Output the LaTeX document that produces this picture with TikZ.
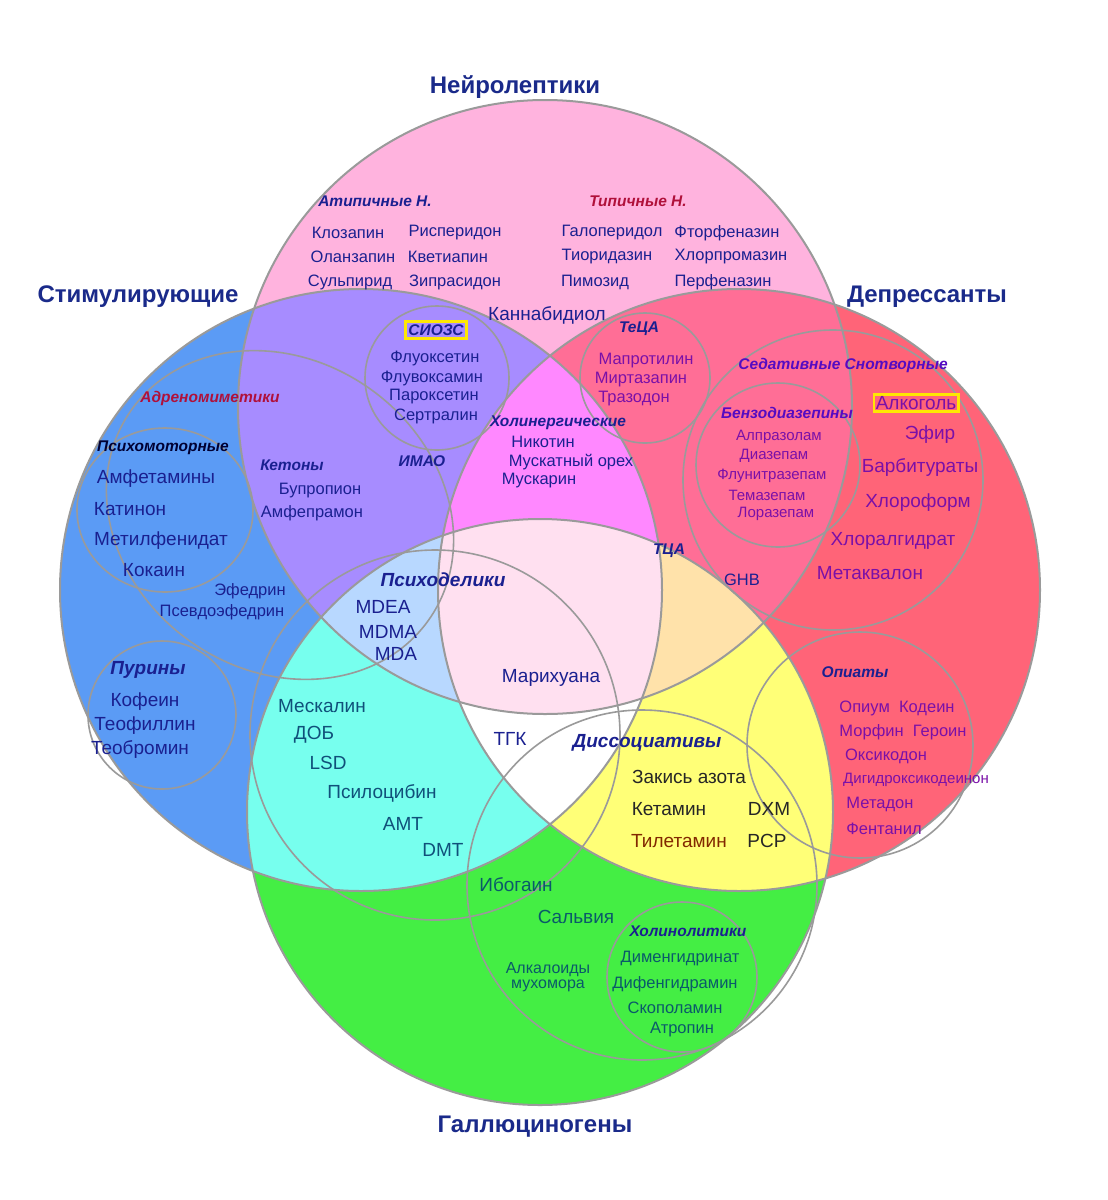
\documentclass[tikz,border=0pt]{standalone}
\usepackage{fontspec}
\setmainfont{Liberation Sans}
\definecolor{cP}{HTML}{FFB3DE}
\definecolor{cB}{HTML}{5B9BF5}
\definecolor{cR}{HTML}{FF6478}
\definecolor{cG}{HTML}{44EE44}
\definecolor{cPB}{HTML}{A78CFF}
\definecolor{cPR}{HTML}{FF6E96}
\definecolor{cBG}{HTML}{77FFEE}
\definecolor{cRG}{HTML}{FFFF77}
\definecolor{cPBR}{HTML}{FF88FF}
\definecolor{cPBG}{HTML}{B8D8FF}
\definecolor{cPRG}{HTML}{FFE2AA}
\definecolor{cAll}{HTML}{FFE0F0}
\definecolor{tit}{HTML}{1A2A8A}
\definecolor{dkb}{HTML}{1A2090}
\definecolor{pur}{HTML}{7A10A8}
\definecolor{teal}{HTML}{10507A}
\definecolor{grn}{HTML}{0A5A6A}
\definecolor{dred}{HTML}{B0103A}
\definecolor{ln}{HTML}{9A9A9A}
\begin{document}
\begin{tikzpicture}[x=1pt,y=-1pt,
  title/.style={font=\fontsize{24}{24}\selectfont\bfseries,text=tit},
  sub/.style={font=\fontsize{15.5}{15.5}\selectfont\bfseries\itshape,text=dkb},
  bigsub/.style={font=\fontsize{19}{19}\selectfont\bfseries\itshape,text=dkb},
  it/.style={font=\fontsize{16.5}{16.5}\selectfont,text=dkb},
  sm/.style={font=\fontsize{15}{15}\selectfont,text=dkb},
  big/.style={font=\fontsize{19}{19}\selectfont,text=dkb},
  ring/.style={draw=ln,line width=2pt},
  thin/.style={draw=ln,line width=1.6pt},
  ybox/.style={draw=yellow!90!orange,line width=2.5pt,inner sep=3pt}]
\useasboundingbox (0,0) rectangle (1108,1200);
\fill[white] (0,0) rectangle (1108,1200);
\def\P{(545,407) circle (307)}
\def\B{(361,590) circle (301)}
\def\R{(739,590) circle (301)}
\def\G{(540,812) circle (293)}
% singles
\fill[cP] \P; \fill[cB] \B; \fill[cR] \R; \fill[cG] \G;
% pairs
\begin{scope}\clip \P; \fill[cPB] \B; \fill[cPR] \R; \end{scope}
\begin{scope}\clip \B; \fill[cBG] \G; \end{scope}
\begin{scope}\clip \R; \fill[cRG] \G; \end{scope}
% triples
\begin{scope}\clip \B; \clip \R; \fill[white] \G; \end{scope}
\begin{scope}\clip \P; \clip \B; \fill[cPBR] \R; \fill[cPBG] \G; \end{scope}
\begin{scope}\clip \P; \clip \R; \fill[cPRG] \G; \end{scope}
\begin{scope}\clip \P; \clip \B; \clip \R; \fill[cAll] \G; \end{scope}
% outlines
\draw[ring] \P; \draw[ring] \B; \draw[ring] \R; \draw[ring] \G;
% sub circles
\draw[thin] (437,378) circle (72);
\draw[thin] (645,378) circle (65);
\draw[thin] (778,465) circle (82);
\draw[thin] (833,480) circle (150);
\draw[thin] (860,745) circle (113);
\draw[thin] (642,885) circle (175);
\draw[thin] (682,977) circle (75);
\draw[thin] (435,735) circle (185);
\draw[thin] (162,715) circle (74);
\draw[thin] (165,510) ellipse (88 and 82);
\draw[thin] (280,515) [rotate around={-35:(280,515)}] ellipse (182 and 155);
% titles
\node[title] (t1) at (515,87) {Нейролептики};
\node[title] (t2) at (138,297) {Стимулирующие};
\node[title] (t3) at (927,297) {Депрессанты};
\node[title] (t4) at (535,1127) {Галлюциногены};
% neuroleptics
\node[sub] (a0) at (375,201) {Атипичные Н.};
\node[sub,text=dred] (b0) at (638,201) {Типичные Н.};
\node[it] (a1) at (348,233) {Клозапин};
\node[it] (a2) at (455,233) {Рисперидон};
\node[it] (a3) at (353,257) {Оланзапин};
\node[it] (a4) at (448,257) {Кветиапин};
\node[it] (a5) at (350,282) {Сульпирид};
\node[it] (a6) at (455,282) {Зипрасидон};
\node[it] (b1) at (612,233) {Галоперидол};
\node[it] (b2) at (727,233) {Фторфеназин};
\node[it] (b3) at (607,257) {Тиоридазин};
\node[it] (b4) at (731,257) {Хлорпромазин};
\node[it] (b5) at (595,282) {Пимозид};
\node[it] (b6) at (723,282) {Перфеназин};
\node[big] (kb) at (547,315) {Каннабидиол};
% SSRI
\node[sub,ybox] (s0) at (436,330) {СИОЗС};
\node[it] (s1) at (435,358) {Флуоксетин};
\node[it] (s2) at (432,378) {Флувоксамин};
\node[it] (s3) at (434,397) {Пароксетин};
\node[it] (s4) at (436,416) {Сертралин};
% TeCA
\node[sub] (e0) at (639,329) {ТеЦА};
\node[it,text=pur] (e1) at (646,361) {Мапротилин};
\node[it,text=pur] (e2) at (641,380) {Миртазапин};
\node[it,text=pur] (e3) at (634,399) {Тразодон};
% cholinergic
\node[sub] (c0) at (558,423) {Холинергические};
\node[it] (c1) at (543,442) {Никотин};
\node[it] (c2) at (571,462) {Мускатный орех};
\node[it] (c3) at (539,481) {Мускарин};
\node[sub] (im) at (422,461) {ИМАО};
% ketones
\node[sub] (k0) at (292,465) {Кетоны};
\node[it] (k1) at (320,491) {Бупропион};
\node[it] (k2) at (312,513) {Амфепрамон};
% stimulants
\node[sub,text=dred] (ad) at (210,398) {Адреномиметики};
\node[sub,text=black!80!blue] (p0) at (163,448) {Психомоторные};
\node[big] (p1) at (156,479) {Амфетамины};
\node[big] (p2) at (130,509) {Катинон};
\node[big] (p3) at (161,541) {Метилфенидат};
\node[big] (p4) at (154,570) {Кокаин};
\node[it] (ef1) at (250,591) {Эфедрин};
\node[it] (ef2) at (222,612) {Псевдоэфедрин};
\node[bigsub] (u0) at (148,670) {Пурины};
\node[big] (u1) at (145,702) {Кофеин};
\node[big] (u2) at (145,726) {Теофиллин};
\node[big] (u3) at (140,749) {Теобромин};
% depressants
\node[sub,text=pur!70!blue] (d0) at (843,365) {Седативные Снотворные};
\node[big,text=pur,ybox,inner sep=2pt] (d1) at (916,403) {Алкоголь};
\node[big,text=pur] (d2) at (930,435) {Эфир};
\node[big,text=pur] (d3) at (920,467) {Барбитураты};
\node[big,text=pur] (d4) at (918,503) {Хлороформ};
\node[big,text=pur] (d5) at (893,541) {Хлоралгидрат};
\node[big,text=pur] (d6) at (870,573) {Метаквалон};
\node[sub,text=pur!70!blue] (z0) at (787,413) {Бензодиазепины};
\node[sm,text=pur] (z1) at (779,437) {Алпразолам};
\node[sm,text=pur] (z2) at (774,456) {Диазепам};
\node[sm,text=pur] (z3) at (772,476) {Флунитразепам};
\node[sm,text=pur] (z4) at (767,495) {Темазепам};
\node[sm,text=pur] (z5) at (776,514) {Лоразепам};
\node[sub] (tca) at (669,551) {ТЦА};
\node[it] (ghb) at (742,580) {GHB};
% psychedelics
\node[bigsub] (y0) at (443,580) {Психоделики};
\node[big] (y1) at (383,607) {MDEA};
\node[big] (y2) at (388,632) {MDMA};
\node[big] (y3) at (396,654) {MDA};
\node[big] (mar) at (551,678) {Марихуана};
\node[big] (thc) at (510,739) {ТГК};
\node[big,text=teal] (h1) at (322,706) {Мескалин};
\node[big,text=teal] (h2) at (314,735) {ДОБ};
\node[big,text=teal] (h3) at (328,763) {LSD};
\node[big,text=teal] (h4) at (382,793) {Псилоцибин};
\node[big,text=teal] (h5) at (403,824) {AMT};
\node[big,text=teal] (h6) at (443,850) {DMT};
% dissociatives
\node[bigsub] (x0) at (647,743) {Диссоциативы};
\node[big,text=black!85] (x1) at (689,777) {Закись азота};
\node[big,text=black!85] (x2) at (669,809) {Кетамин};
\node[big,text=black!85] (x3) at (769,809) {DXM};
\node[big,text={rgb,255:red,130;green,40;blue,0}] (x4) at (679,841) {Тилетамин};
\node[big,text=black!85] (x5) at (767,841) {PCP};
% opiates
\node[sub] (o0) at (855,672) {Опиаты};
\node[it,text=pur] (o1) at (897,708) {Опиум\ \ Кодеин};
\node[it,text=pur] (o2) at (903,732) {Морфин\ \ Героин};
\node[it,text=pur] (o3) at (886,756) {Оксикодон};
\node[sm,text=pur] (o4) at (916,780) {Дигидроксикодеинон};
\node[it,text=pur] (o5) at (880,804) {Метадон};
\node[it,text=pur] (o6) at (884,829) {Фентанил};
% hallucinogens
\node[big,text=grn] (g1) at (516,885) {Ибогаин};
\node[big,text=grn] (g2) at (576,917) {Сальвия};
\node[it,text=grn,align=center,font=\fontsize{16}{15}\selectfont] (g3) at (548,977) {Алкалоиды\\мухомора};
\node[sub] (l0) at (688,931) {Холинолитики};
\node[it,text=grn] (l1) at (680,959) {Дименгидринат};
\node[it,text=grn] (l2) at (675,984) {Дифенгидрамин};
\node[it,text=grn] (l3) at (675,1008) {Скополамин};
\node[it,text=grn] (l4) at (682,1030) {Атропин};
\end{tikzpicture}
\end{document}
